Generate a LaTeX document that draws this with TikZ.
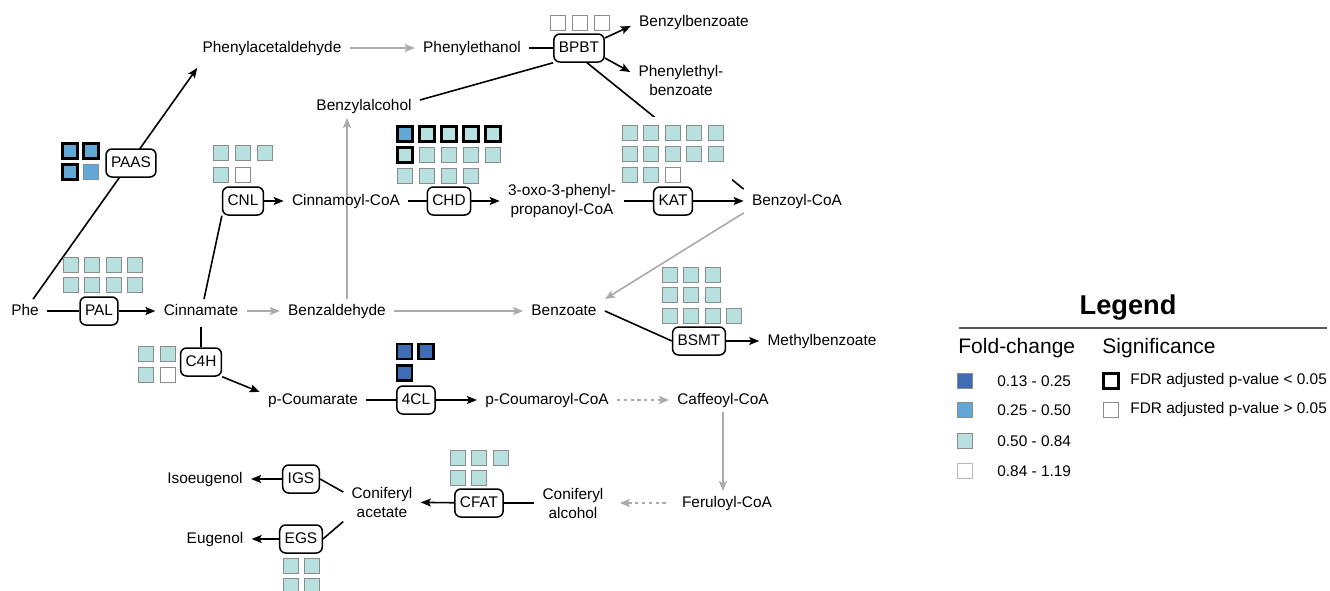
\documentclass[tikz,border=0pt]{standalone}
\usepackage{fontspec}
\setmainfont{Liberation Sans}
\usetikzlibrary{arrows.meta,backgrounds}
\definecolor{fcdark}{HTML}{3F6DB4}
\definecolor{fcmid}{HTML}{62A8D6}
\definecolor{fcteal}{HTML}{B8E0DE}
\definecolor{sqgrey}{HTML}{8C8C8C}
\definecolor{flowgrey}{HTML}{ABABAB}
\newcommand{\fcsq}[4][]{% [options]{x}{y}{fill}
  \filldraw[fill=#4,draw=sqgrey,line width=0.5pt,#1] (#2-7.5,#3-7.5) rectangle ++(15,15);
}

\begin{document}
\begin{tikzpicture}[x=0.5pt,y=-0.5pt,
    metabtxt/.style={inner xsep=4pt,inner ysep=2pt,align=center,font=\fontsize{7.7}{9.5}\selectfont},
    metab/.style={metabtxt,text height=6pt,text depth=1.5pt},
    enz/.style={draw,fill=white,rounded corners=3pt,line width=0.75pt,inner xsep=2.5pt,inner ysep=0pt,
      text height=6pt,text depth=1.5pt,minimum height=14pt,font=\fontsize{7.7}{9.5}\selectfont},
    link/.style={line width=0.8pt},
    rxn/.style={link,-{Stealth[length=5pt,width=4pt,inset=1pt]}},
    minor/.style={rxn,flowgrey},
    dashrxn/.style={minor,dash pattern=on 1.6pt off 1.8pt},
    sig/.style={draw=black,line width=1.3pt},
    legtxt/.style={inner sep=0pt,anchor=west,font=\fontsize{7.7}{9.5}\selectfont}]
  \useasboundingbox (0,0) rectangle (1330,590);

  % Fold-change grids
  \foreach \x in {557.5,579.5,601.5} {\fcsq{\x}{22.5}{white}}
  \fcsq[sig]{70}{151}{fcmid} \fcsq[sig]{91}{151}{fcmid}
  \fcsq[sig]{70}{172}{fcmid} \fcsq{91}{172}{fcmid}
  \foreach \x in {70.5,92,113.5,135} \foreach \y in {264.5,284.5} {\fcsq{\x}{\y}{fcteal}}
  \foreach \x in {221,243,265} {\fcsq{\x}{152.5}{fcteal}}
  \fcsq{221}{174.5}{fcteal} \fcsq{243}{174.5}{white}
  \fcsq[sig]{405}{134}{fcmid}
  \foreach \x in {427,449,471,493} {\fcsq[sig]{\x}{134}{fcteal}}
  \fcsq[sig]{405}{155}{fcteal}
  \foreach \x in {427,449,471,493} {\fcsq{\x}{155}{fcteal}}
  \foreach \x in {405,427,449,471} {\fcsq{\x}{175.5}{fcteal}}
  \fill[white] (614,117) rectangle (732,186);
  \foreach \x in {629.5,651,672.5,694,716} \foreach \y in {132.5,154} {\fcsq{\x}{\y}{fcteal}}
  \fcsq{629.5}{175}{fcteal} \fcsq{651}{175}{fcteal} \fcsq{672.5}{175}{white}
  \foreach \x in {669.5,690.5,712.5} \foreach \y in {274.5,294.5} {\fcsq{\x}{\y}{fcteal}}
  \foreach \x in {669.5,690.5,712.5,733.5} {\fcsq{\x}{315.5}{fcteal}}
  \fcsq{145.5}{353.5}{fcteal} \fcsq{167.5}{353.5}{fcteal}
  \fcsq{145.5}{374.5}{fcteal} \fcsq{167.5}{374.5}{white}
  \fcsq[sig]{404.5}{351.5}{fcdark} \fcsq[sig]{426}{351.5}{fcdark}
  \fcsq[sig]{404.5}{373}{fcdark}
  \foreach \x in {457.5,479,500.5} {\fcsq{\x}{457.5}{fcteal}}
  \fcsq{457.5}{478}{fcteal} \fcsq{479}{478}{fcteal}
  \foreach \x in {290.5,311.5} \foreach \y in {565.5,586} {\fcsq{\x}{\y}{fcteal}}

  % Metabolites
  \node[metab] (phe) at (25,311) {Phe};
  \node[metab] (cinn) at (201,311) {Cinnamate};
  \node[metab] (bald) at (337,311) {Benzaldehyde};
  \node[metab] (bzoate) at (564,311) {Benzoate};
  \node[metab] (phald) at (272,48) {Phenylacetaldehyde};
  \node[metab] (pheol) at (472,48) {Phenylethanol};
  \node[metab] (bzbz) at (694,22) {Benzylbenzoate};
  \node[metabtxt] (pebz) at (681,80) {Phenylethyl-\\benzoate};
  \node[metab] (balc) at (364,106) {Benzylalcohol};
  \node[metab] (ccoa) at (346,201) {Cinnamoyl-CoA};
  \node[metabtxt] (oxo) at (562,201) {3-oxo-3-phenyl-\\propanoyl-CoA};
  \node[metab] (bcoa) at (797,201) {Benzoyl-CoA};
  \node[metab] (mebz) at (822,341) {Methylbenzoate};
  \node[metab] (pcou) at (313,400) {p-Coumarate};
  \node[metab] (pccoa) at (547,400) {p-Coumaroyl-CoA};
  \node[metab] (cafcoa) at (723,400) {Caffeoyl-CoA};
  \node[metab] (fercoa) at (727,503) {Feruloyl-CoA};
  \node[metabtxt] (conalc) at (573,503) {Coniferyl\\alcohol};
  \node[metabtxt] (conac) at (382,502) {Coniferyl\\acetate};
  \node[metab] (isoeug) at (205,479) {Isoeugenol};
  \node[metab] (eug) at (215,539) {Eugenol};

  % Enzymes
  \node[enz] (pal) at (99,311) {PAL};
  \node[enz] (paas) at (131,163) {PAAS};
  \node[enz] (bpbt) at (579,48) {BPBT};
  \node[enz] (cnl) at (243,201) {CNL};
  \node[enz] (chd) at (449,201) {CHD};
  \node[enz] (kat) at (673,201) {KAT};
  \node[enz] (bsmt) at (699,341) {BSMT};
  \node[enz] (cfh) at (201,362) {C4H};
  \node[enz] (fourcl) at (416,400) {4CL};
  \node[enz] (cfat) at (479,503) {CFAT};
  \node[enz] (igs) at (301,479) {IGS};
  \node[enz] (egs) at (301,539) {EGS};

  % Reactions
  \begin{scope}[on background layer]
    \draw[rxn] ([xshift=-7pt]phe.north east) -- ([xshift=1.5pt,yshift=-4pt]phald.south west);
    \draw[link] (phe) -- (pal);
    \draw[rxn] (pal) -- (cinn);
    \draw[minor] (cinn) -- (bald);
    \draw[minor] (bald) -- (bzoate);
    \draw[minor] ([xshift=5pt]bald.north) -- ([xshift=5pt]bald.north |- balc.south);
    \draw[minor] (phald) -- (pheol);
    \draw[link] (pheol) -- (bpbt);
    \draw[link] ([yshift=3pt]balc.east) -- (bpbt.south west);
    \draw[rxn] ([yshift=5pt]bpbt.east) -- ([yshift=-2pt]bzbz.west);
    \draw[rxn] ([yshift=-5pt]bpbt.east) -- ([yshift=4pt]pebz.west);
    \draw[link] ([xshift=4pt]bpbt.south) -- (bcoa.north west);
    \draw[link] ([xshift=1.5pt]cinn.north) -- (cnl.south west);
    \draw[rxn] (cnl) -- (ccoa);
    \draw[link] (ccoa) -- (chd);
    \draw[rxn] (chd) -- (oxo);
    \draw[link] (oxo) -- (kat);
    \draw[rxn] (kat) -- (bcoa);
    \draw[minor] (bcoa.south west) -- (bzoate.north east);
    \draw[link] (bzoate.east) -- (bsmt.west);
    \draw[rxn] (bsmt) -- (mebz);
    \draw[link,shorten <=2pt] (cinn.south) -- (cfh.north);
    \draw[rxn] (cfh.south east) -- ([yshift=4pt]pcou.west);
    \draw[link] (pcou) -- (fourcl);
    \draw[rxn] (fourcl) -- (pccoa);
    \draw[dashrxn] (pccoa) -- (cafcoa);
    \draw[minor] (cafcoa.south) -- (cafcoa.south |- fercoa.north);
    \draw[dashrxn,shorten <=4pt,shorten >=4pt] (fercoa) -- (conalc);
    \draw[link] (conalc) -- (cfat);
    \draw[rxn] (cfat) -- (conac);
    \draw[link] ([yshift=5pt]conac.west) -- (igs.east);
    \draw[link] (conac.south west) -- (egs.east);
    \draw[rxn] (igs) -- (isoeug);
    \draw[rxn] (egs) -- (eug);
  \end{scope}

  % Legend
  \node[font=\fontsize{13.6}{16}\selectfont\bfseries] (legtitle) at (1128,308) {Legend};
  \draw[line width=1pt,black!65] (959,328) -- (1327,328);
  \node[legtxt,font=\fontsize{10.5}{12}\selectfont] (foldhead) at (958,348) {Fold-change};
  \node[legtxt,font=\fontsize{10.5}{12}\selectfont] (sighead) at (1102,348) {Significance};
  \fcsq{965}{381}{fcdark}
  \fcsq{965}{410}{fcmid}
  \fcsq{965}{441}{fcteal}
  \fcsq[draw=sqgrey!60]{965}{471}{white}
  \node[legtxt] (fc1) at (997,381) {0.13 - 0.25};
  \node[legtxt] (fc2) at (997,410) {0.25 - 0.50};
  \node[legtxt] (fc3) at (997,441) {0.50 - 0.84};
  \node[legtxt] (fc4) at (997,471) {0.84 - 1.19};
  \fcsq[sig]{1111}{381}{white}
  \fcsq{1111}{410}{white}
  \node[legtxt] (sig1) at (1130,381) {FDR adjusted p-value < 0.05};
  \node[legtxt] (sig2) at (1130,410) {FDR adjusted p-value > 0.05};
\end{tikzpicture}
\end{document}
